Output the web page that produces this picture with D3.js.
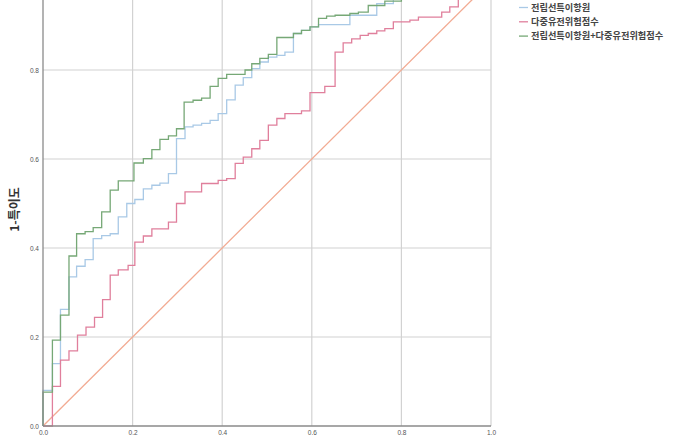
<!DOCTYPE html>
<html><head><meta charset="utf-8">
<script src="https://cdn.jsdelivr.net/npm/d3@7"></script>
<style>body{margin:0;background:#fff}svg{display:block}</style>
</head><body><svg id="c" width="700" height="440"></svg>
<script>
const tickValues = [0, 0.2, 0.4, 0.6, 0.8, 1.0];
const yTickValues = [0, 0.2, 0.4, 0.6, 0.8];
const seriesNames = ["전립선특이항원", "다중유전위험점수", "전립선특이항원+다중유전위험점수"];
const yTitle = "1-특이도";

// 전립선특이항원 (step points: fpr, tpr after step)
const psaFpr = [0,0,0.021,0.039,0.058,0.075,0.094,0.112,0.131,0.150,0.168,0.187,0.205,0.224,0.243,0.261,0.280,0.298,0.317,0.335,0.354,0.373,0.391,0.410,0.429,0.447,0.466,0.484,0.503,0.522,0.540,0.559,0.577,0.596,0.615,0.685,0.745,0.782,0.84,0.9,1];
const psaTpr = [0,0.080,0.140,0.262,0.335,0.359,0.374,0.421,0.428,0.432,0.470,0.500,0.509,0.533,0.541,0.546,0.567,0.646,0.672,0.676,0.680,0.687,0.702,0.733,0.766,0.783,0.803,0.818,0.829,0.833,0.840,0.882,0.889,0.897,0.902,0.923,0.949,0.965,0.98,0.99,1];

// 다중유전위험점수
const prsFpr = [0,0.021,0.039,0.058,0.077,0.096,0.115,0.133,0.150,0.168,0.190,0.205,0.224,0.243,0.280,0.298,0.317,0.354,0.391,0.410,0.429,0.447,0.466,0.484,0.503,0.522,0.540,0.577,0.596,0.629,0.652,0.670,0.689,0.708,0.726,0.745,0.763,0.782,0.819,0.838,0.890,0.908,0.927,0.96,1];
const prsTpr = [0,0.089,0.148,0.169,0.204,0.222,0.244,0.284,0.339,0.351,0.361,0.413,0.427,0.443,0.458,0.500,0.526,0.545,0.552,0.556,0.590,0.604,0.623,0.642,0.676,0.691,0.702,0.708,0.749,0.763,0.840,0.861,0.870,0.878,0.882,0.888,0.893,0.908,0.912,0.919,0.930,0.942,0.970,0.99,1];

// 전립선특이항원+다중유전위험점수
const combFpr = [0,0,0.021,0.039,0.058,0.075,0.094,0.112,0.131,0.150,0.168,0.203,0.224,0.243,0.261,0.280,0.298,0.315,0.335,0.354,0.373,0.391,0.410,0.451,0.466,0.484,0.503,0.522,0.559,0.577,0.596,0.615,0.633,0.652,0.685,0.704,0.726,0.763,0.80,0.85,0.9,1];
const combTpr = [0,0.076,0.193,0.249,0.382,0.432,0.437,0.446,0.481,0.530,0.551,0.591,0.601,0.621,0.644,0.652,0.668,0.728,0.732,0.737,0.763,0.781,0.790,0.800,0.814,0.826,0.835,0.873,0.882,0.889,0.897,0.916,0.921,0.923,0.927,0.930,0.945,0.955,0.97,0.985,1,1];

const colors = ["#a9c9e6", "#e07f9c", "#76a876"];
const diagColor = "#f2ab93";

const svg = d3.select("#c");
const x = d3.scaleLinear().domain([0, 1]).range([43, 491]);
const y = d3.scaleLinear().domain([0, 1]).range([426, -19]);

// grid
const g = svg.append("g");
g.selectAll("line.vx").data(tickValues.filter(d => d > 0)).join("line")
  .attr("x1", d => x(d)).attr("x2", d => x(d)).attr("y1", y(0)).attr("y2", y(1))
  .attr("stroke", "#d2d2d2").attr("stroke-width", 1.2);
g.selectAll("line.hy").data(tickValues.filter(d => d > 0)).join("line")
  .attr("x1", x(0)).attr("x2", x(1)).attr("y1", d => y(d)).attr("y2", d => y(d))
  .attr("stroke", "#d2d2d2").attr("stroke-width", 1.2);

// diagonal
svg.append("line").attr("x1", x(0)).attr("y1", y(0)).attr("x2", x(1)).attr("y2", y(1))
  .attr("stroke", diagColor).attr("stroke-width", 1.3);

const line = d3.line().x(d => x(d[0])).y(d => y(d[1])).curve(d3.curveStepAfter);
const series = [
  d3.zip(psaFpr, psaTpr),
  d3.zip(prsFpr, prsTpr),
  d3.zip(combFpr, combTpr)
];
series.forEach((s, i) => {
  svg.append("path").datum(s).attr("d", line)
    .attr("fill", "none").attr("stroke", colors[i]).attr("stroke-width", 1.3);
});

// axes
const fmt = d3.format(".1f");
const xAxis = svg.append("g").attr("transform", `translate(0,${y(0)})`)
  .call(d3.axisBottom(x).tickValues(tickValues).tickFormat(fmt).tickSize(0).tickPadding(4));
const yAxis = svg.append("g").attr("transform", `translate(${x(0)},0)`)
  .call(d3.axisLeft(y).tickValues(yTickValues).tickFormat(fmt).tickSize(0).tickPadding(4));
[xAxis, yAxis].forEach(a => {
  a.select(".domain").attr("stroke", "#8a8a8a").attr("stroke-width", 1.3);
  a.selectAll("text").attr("font-family", "Arial, 'Liberation Sans', sans-serif")
    .attr("font-size", 6.5).attr("fill", "#555");
});
yAxis.select(".domain").attr("d", `M0,${y(0)}V${y(1)}`);
xAxis.select(".domain").attr("d", `M${x(0)},0H${x(1)}`);

// y title
svg.append("text").attr("transform", `translate(19,${(y(0) + y(1)) / 2 + 6}) rotate(-90)`)
  .attr("text-anchor", "middle").attr("font-family", "'Noto Sans CJK KR', sans-serif")
  .attr("font-weight", "bold").attr("font-size", 12).attr("fill", "#333").text(yTitle);

// legend
const leg = svg.append("g");
seriesNames.forEach((n, i) => {
  const yy = 7.5 + i * 14.3;
  leg.append("line").attr("x1", 519).attr("x2", 528).attr("y1", yy).attr("y2", yy)
    .attr("stroke", colors[i]).attr("stroke-width", 1.3);
  leg.append("text").attr("x", 531).attr("y", yy + 3.2)
    .attr("font-family", "'Noto Sans CJK KR', sans-serif").attr("font-weight", "bold")
    .attr("font-size", 9.2).attr("fill", "#444").text(n);
});
</script></body></html>
